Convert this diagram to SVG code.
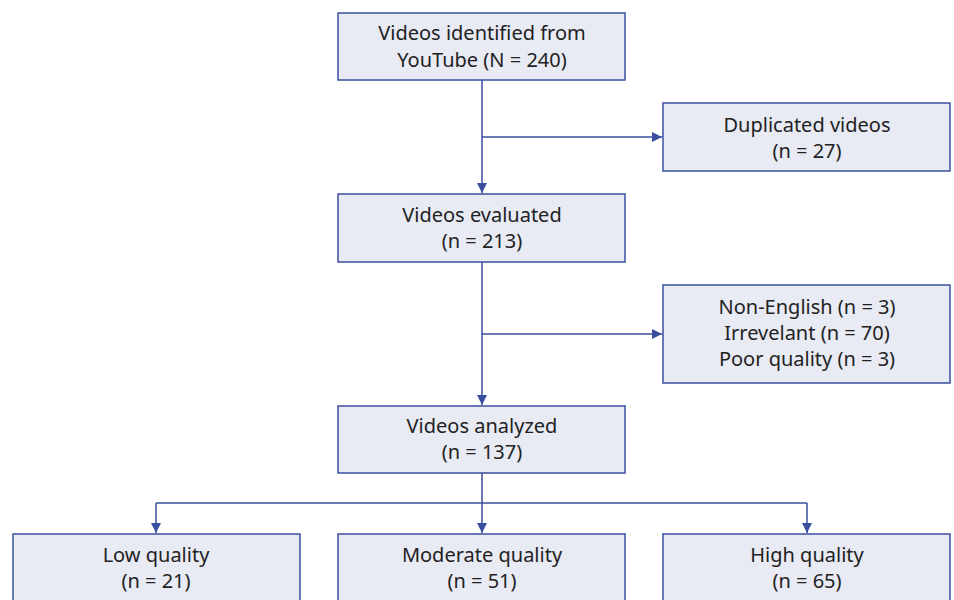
<svg xmlns="http://www.w3.org/2000/svg" width="954" height="600" viewBox="0 0 954 600">
<style>
.box{fill:#e8eaf4;stroke:#3a4fa0;stroke-width:1.5}
.t{font-family:"Noto Sans","Open Sans",sans-serif;font-size:20px;fill:#222;text-anchor:middle}
.c{fill:none;stroke:#3a4fa0;stroke-width:1.5}
</style>
<defs>
<marker id="ah" viewBox="0 0 10 10" refX="10" refY="5" markerWidth="10" markerHeight="10" markerUnits="userSpaceOnUse" orient="auto">
<path d="M0,0 L10,5 L0,10 Z" fill="#3a4fa0"/>
</marker>
</defs>
<rect width="954" height="600" fill="#fff"/>
<g id="connectors">
<path class="c" d="M482,80 V193" marker-end="url(#ah)"/>
<path class="c" d="M482,137 H662" marker-end="url(#ah)"/>
<path class="c" d="M482,262 V405" marker-end="url(#ah)"/>
<path class="c" d="M482,334 H662" marker-end="url(#ah)"/>
<path class="c" d="M482,473 V533" marker-end="url(#ah)"/>
<path class="c" d="M156,503 H807"/>
<path class="c" d="M156,503 V533" marker-end="url(#ah)"/>
<path class="c" d="M807,503 V533" marker-end="url(#ah)"/>
</g>
<g id="identified">
<rect class="box" x="338" y="13" width="287" height="67"/>
<text class="t" x="482" y="40">Videos identified from</text>
<text class="t" x="482" y="67">YouTube (N = 240)</text>
</g>
<g id="duplicated">
<rect class="box" x="663" y="103" width="287" height="68"/>
<text class="t" x="807" y="132">Duplicated videos</text>
<text class="t" x="807" y="158">(n = 27)</text>
</g>
<g id="evaluated">
<rect class="box" x="338" y="194" width="287" height="68"/>
<text class="t" x="482" y="222">Videos evaluated</text>
<text class="t" x="482" y="248">(n = 213)</text>
</g>
<g id="excluded">
<rect class="box" x="663" y="285" width="287" height="98"/>
<text class="t" x="807" y="314">Non-English (n = 3)</text>
<text class="t" x="807" y="340">Irrevelant (n = 70)</text>
<text class="t" x="807" y="366">Poor quality (n = 3)</text>
</g>
<g id="analyzed">
<rect class="box" x="338" y="406" width="287" height="67"/>
<text class="t" x="482" y="433">Videos analyzed</text>
<text class="t" x="482" y="459">(n = 137)</text>
</g>
<g id="low">
<rect class="box" x="13" y="534" width="287" height="80"/>
<text class="t" x="156" y="562">Low quality</text>
<text class="t" x="156" y="588">(n = 21)</text>
</g>
<g id="moderate">
<rect class="box" x="338" y="534" width="287" height="80"/>
<text class="t" x="482" y="562">Moderate quality</text>
<text class="t" x="482" y="588">(n = 51)</text>
</g>
<g id="high">
<rect class="box" x="663" y="534" width="287" height="80"/>
<text class="t" x="807" y="562">High quality</text>
<text class="t" x="807" y="588">(n = 65)</text>
</g>
</svg>
